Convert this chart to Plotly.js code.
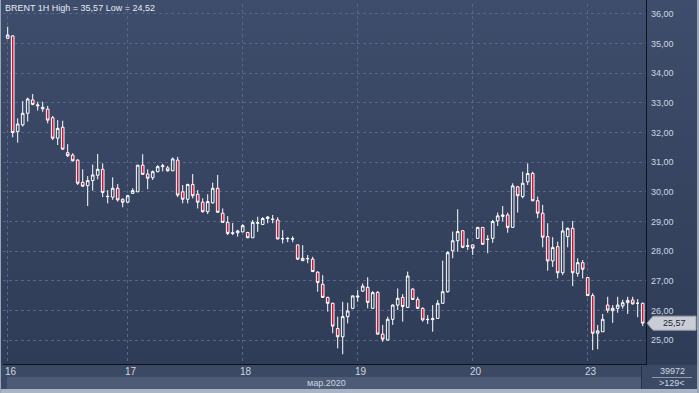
<!DOCTYPE html>
<html><head><meta charset="utf-8">
<script src="https://cdn.plot.ly/plotly-3.0.1.min.js"></script>
<style>
html,body{margin:0;padding:0;background:#3a4862;}
#wrap{position:relative;width:699px;height:393px;overflow:hidden;}
.bg{position:absolute;}
#chart{position:absolute;left:0;top:0;width:699px;height:393px;}
</style></head><body>
<div id="wrap">
<div class="bg" style="left:0;top:0;width:699px;height:365px;background:linear-gradient(#3e4d6b,#2f3c57);"></div>
<div class="bg" style="left:0;top:365px;width:699px;height:25px;background:#3b4964;"></div>
<div class="bg" style="left:7px;top:377px;width:634px;height:12px;background:#4d5b76;"></div>
<div class="bg" style="left:0;top:389px;width:699px;height:4px;background:#aab4c4;"></div>
<div class="bg" style="left:0;top:0;width:1px;height:393px;background:#9aa5b6;"></div>
<div class="bg" style="left:697px;top:0;width:2px;height:393px;background:#9aa5b6;"></div>
<div class="bg" style="left:646px;top:0;width:1px;height:365px;background:#0d121c;"></div>
<div class="bg" style="left:3px;top:364px;width:643px;height:1px;background:#0d121c;"></div>
<div id="chart"></div>
</div>
<script>
// hourly candles, BRENT 1H, 16-23 March 2020
const openP  = [35.18,35.26,32.03,32.26,32.65,33.10,32.90,32.80,32.79,32.50,31.81,32.18,31.32,31.24,31.07,30.32,30.21,30.38,30.56,30.76,29.85,29.82,30.12,29.75,29.65,29.95,30.00,30.90,30.60,30.48,30.68,30.85,30.81,30.71,31.07,30.00,29.75,30.25,29.92,29.65,29.33,29.63,30.12,29.28,28.97,28.62,28.62,28.65,28.63,28.45,28.94,28.90,29.10,29.08,29.05,28.42,28.42,28.42,28.21,27.68,27.74,27.73,27.29,26.88,26.44,26.24,25.39,25.11,25.79,26.07,26.45,26.65,26.78,26.07,26.61,25.20,25.00,25.70,26.18,26.44,26.10,26.72,26.37,26.07,25.70,25.69,25.73,26.24,26.63,28.01,28.35,28.69,28.16,28.21,28.43,28.80,28.39,28.43,29.02,29.17,29.22,28.80,30.17,29.84,30.34,30.62,29.70,29.28,28.49,27.67,28.15,27.27,28.49,28.77,27.25,27.61,27.11,26.50,25.23,25.28,26.18,25.99,26.07,26.15,26.26,26.35,26.24,26.24];
const highP  = [35.57,35.28,32.48,33.06,33.18,33.30,33.04,33.04,32.90,32.56,32.42,32.40,31.61,31.30,31.10,30.76,30.53,30.92,31.28,30.96,30.06,30.49,30.26,29.78,29.90,30.12,30.90,31.27,30.76,30.72,30.90,30.95,30.88,31.16,31.18,30.23,30.27,30.60,30.06,29.78,29.92,30.31,30.57,29.44,29.18,28.95,28.72,28.91,28.65,29.05,29.16,29.15,29.18,29.22,29.14,28.71,28.47,28.50,28.21,28.20,27.87,27.81,27.32,27.19,26.46,26.26,25.79,26.29,26.26,26.50,26.69,26.91,27.12,26.65,26.65,25.51,25.79,26.20,26.74,26.55,27.31,26.75,26.46,26.10,25.84,26.18,26.35,27.68,28.00,28.66,29.41,28.70,28.43,28.22,28.82,28.80,28.54,29.05,29.30,29.52,29.30,30.29,30.20,30.68,30.96,30.68,29.84,29.56,28.94,28.47,28.32,29.00,28.80,29.02,27.76,27.70,27.11,26.58,25.51,25.88,26.46,26.18,26.46,26.36,26.46,26.46,26.38,26.26];
const lowP   = [35.15,31.84,31.66,32.20,32.37,32.92,32.74,32.70,32.31,31.75,31.58,31.42,31.17,31.02,30.23,30.17,29.52,30.04,30.42,29.82,29.61,29.73,29.67,29.48,29.63,29.93,30.00,30.57,30.09,30.40,30.66,30.69,30.68,30.70,29.82,29.61,29.61,29.78,29.44,29.30,29.25,29.60,29.30,28.95,28.54,28.54,28.49,28.64,28.44,28.45,28.65,28.88,28.94,28.94,28.40,28.26,28.30,28.30,27.70,27.66,27.59,27.30,26.63,26.43,25.96,25.23,24.72,24.52,25.56,26.05,26.29,26.63,26.07,26.07,25.18,24.94,24.98,25.51,26.01,25.62,26.08,26.35,26.05,25.62,25.54,25.28,25.72,26.22,26.60,27.76,27.98,28.10,28.04,27.87,28.42,28.22,27.93,28.28,28.85,29.00,28.62,28.80,29.30,29.78,30.23,29.68,29.11,28.13,27.34,27.47,27.08,27.19,28.13,26.82,27.14,27.08,26.50,24.66,24.69,25.28,25.92,25.58,25.92,26.06,25.88,26.20,25.77,25.47];
const closeP = [35.29,32.00,32.29,32.65,33.13,32.95,32.93,32.85,32.42,31.81,32.14,31.44,31.22,31.05,30.29,30.19,30.38,30.57,30.76,29.98,29.84,30.12,29.73,29.65,29.87,30.04,30.90,30.59,30.46,30.68,30.85,30.88,30.71,31.11,29.89,29.75,30.25,29.87,29.65,29.33,29.67,30.12,29.31,28.97,28.60,28.60,28.68,28.86,28.45,28.97,28.96,29.10,29.15,29.07,28.41,28.42,28.43,28.41,27.73,27.76,27.75,27.31,26.94,26.44,26.24,25.47,25.11,25.79,25.98,26.49,26.48,26.82,26.27,26.60,25.20,25.03,25.70,26.18,26.41,26.13,27.16,26.37,26.07,25.68,25.69,25.72,26.24,26.63,27.95,28.35,28.66,28.13,28.18,28.10,28.80,28.23,28.40,29.00,29.19,29.22,28.80,30.20,29.87,30.29,30.62,29.70,29.28,28.47,27.67,28.12,27.27,28.68,28.77,27.27,27.61,27.39,26.50,25.23,25.31,25.70,26.01,26.07,26.18,26.26,26.34,26.22,26.24,25.57];
const dayLabels = ['16','17','18','19','20','23'];
const dayFirstBar = [0,24,47,70,93,116];
const priceTicks = [25,26,27,28,29,30,31,32,33,34,35,36];
const monthLabel = 'мар.2020';
const instrument = 'BRENT 1H';
const volumeText = '39972';
const barsText = '>129<';

const idx = closeP.map((_, i) => i);
const fmt = v => v.toFixed(2).replace('.', ',');
const hi = Math.max(...highP), lo = Math.min(...lowP);
const last = closeP[closeP.length - 1];
const gridPos = dayFirstBar.map(d => d - 0.14);

const txt = '#cfd6e0';
const font = 'Liberation Sans, Arial, sans-serif';
const px = p => (p - 3) / 643;           // pixel x -> paper x
const py = p => (364 - p) / 360;         // pixel y -> paper y
const hh = 7 / 29.64;

const annotations = [
  {xref:'paper', yref:'paper', x:0, xshift:0, y:py(8), xanchor:'left', yanchor:'middle', showarrow:false,
   text: instrument + ' High = ' + fmt(hi) + ' Low = ' + fmt(lo), font:{family:font, size:9, color:'#e6eaf0'}},
  {xref:'paper', yref:'paper', x:px(348), y:py(383), xanchor:'right', yanchor:'middle', showarrow:false,
   text: monthLabel, font:{family:font, size:9, color:txt}},
  {xref:'paper', yref:'paper', x:px(672), y:py(371), xanchor:'center', yanchor:'middle', showarrow:false,
   text: volumeText, font:{family:font, size:9, color:txt}},
  {xref:'paper', yref:'paper', x:px(672), y:py(383), xanchor:'center', yanchor:'middle', showarrow:false,
   text: barsText, font:{family:font, size:9, color:txt}},
  {xref:'paper', yref:'y', x:px(674), y:last, xanchor:'center', yanchor:'middle', showarrow:false,
   text: fmt(last), font:{family:font, size:9, color:'#1c2433'}}
];
dayLabels.forEach((t, k) => annotations.push({
  xref:'x', yref:'paper', x:gridPos[k], xshift:-4, y:py(371), xanchor:'left', yanchor:'middle', showarrow:false,
  text:t, font:{family:font, size:10, color:txt}
}));

const shapes = [
  {type:'path', xref:'paper', yref:'y', fillcolor:'#c9ced6', line:{color:'#9aa2ae', width:1},
   path:`M ${px(647)},${last} L ${px(653)},${last+hh} L ${px(696)},${last+hh} L ${px(696)},${last-hh} L ${px(653)},${last-hh} Z`},
  {type:'line', xref:'paper', yref:'paper', x0:px(652), x1:px(692), y0:py(377.5), y1:py(377.5), line:{color:'#8e99ab', width:1}},
  {type:'line', xref:'paper', yref:'paper', x0:px(641.5), x1:px(641.5), y0:py(366), y1:py(389), line:{color:'#27304a', width:1}}
];

const trace = {
  type:'candlestick', x:idx, open:openP, high:highP, low:lowP, close:closeP,
  increasing:{line:{color:'#ffffff', width:1}, fillcolor:'rgba(0,0,0,0)'},
  decreasing:{line:{color:'#ffffff', width:1}, fillcolor:'#c8163c'},
  whiskerwidth:0, hoverinfo:'skip'
};

const layout = {
  width:699, height:393, margin:{l:3, r:53, t:4, b:29},
  paper_bgcolor:'rgba(0,0,0,0)', plot_bgcolor:'rgba(0,0,0,0)',
  separators:',.', showlegend:false, boxgap:0.25,
  font:{family:font, size:9, color:txt},
  xaxis:{range:[-0.94,127.66], tickvals:gridPos, showticklabels:false, ticks:'',
         showgrid:true, gridcolor:'#56658a', griddash:'3px,3px', gridwidth:1,
         zeroline:false, showline:false, rangeslider:{visible:false}, fixedrange:true},
  yaxis:{side:'right', range:[24.192,36.337], tickvals:priceTicks, tickformat:'.2f', ticks:'',
         ticklabelstandoff:4, tickfont:{family:font, size:9, color:txt},
         showgrid:true, gridcolor:'#56658a', griddash:'3px,3px', gridwidth:1,
         zeroline:false, showline:false, fixedrange:true},
  annotations, shapes
};
Plotly.newPlot('chart', [trace], layout, {displayModeBar:false, staticPlot:true});
</script>
</body></html>
